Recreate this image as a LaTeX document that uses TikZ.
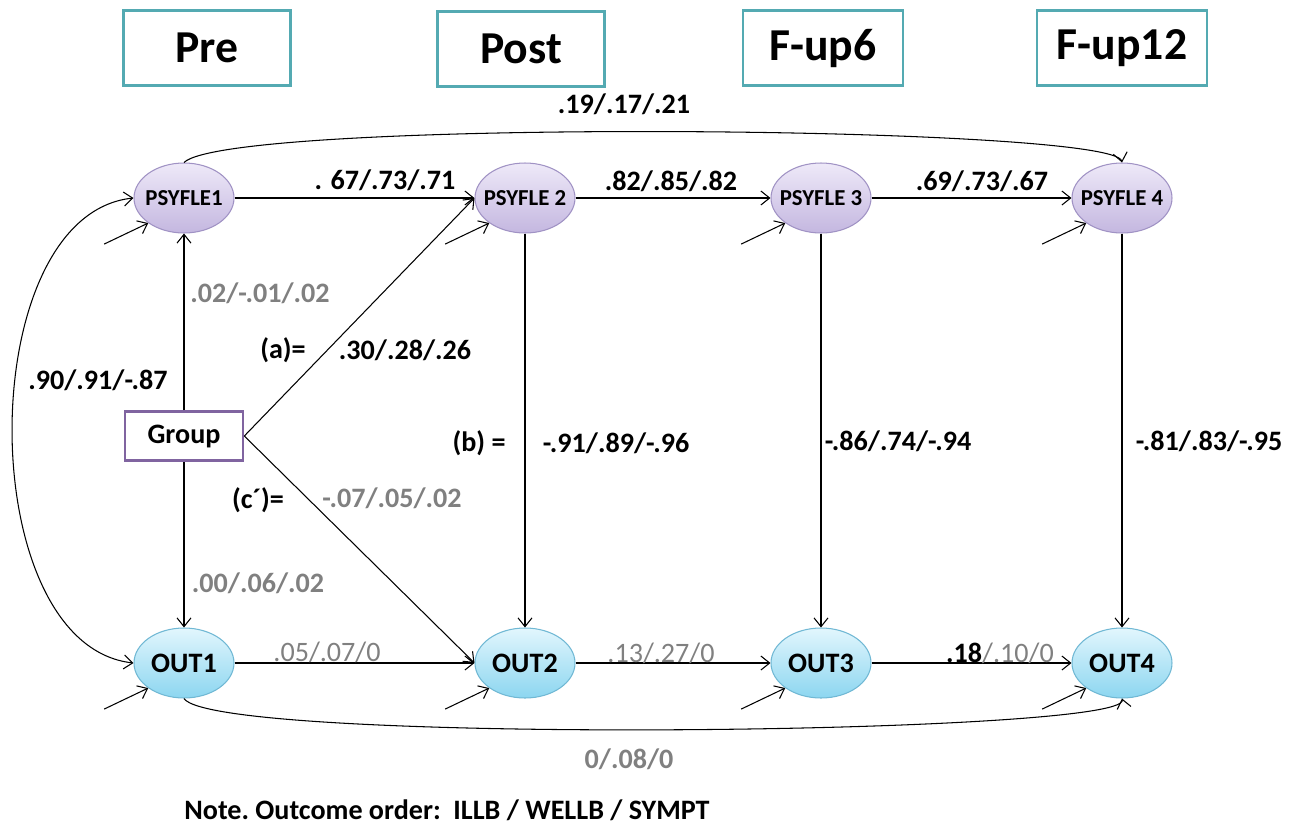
\documentclass[tikz,border=0pt]{standalone}
\usepackage{fontspec,graphicx}
\setmainfont{Carlito}
\usepackage{tikz}
\usetikzlibrary{calc}
\usetikzlibrary{shapes.geometric}
\usetikzlibrary{arrows.meta}
\definecolor{psyedge}{RGB}{160,146,196}
\definecolor{psytop}{RGB}{238,233,248}
\definecolor{psybot}{RGB}{196,183,224}
\definecolor{outedge}{RGB}{112,184,212}
\definecolor{outtop}{RGB}{226,246,253}
\definecolor{outbot}{RGB}{140,214,240}
\definecolor{waveedge}{RGB}{84,170,178}
\definecolor{grpedge}{RGB}{128,100,160}
\definecolor{coefgray}{RGB}{128,128,128}
\tikzset{
	% Two node styles for the path model: mediator and outcome
	psy node/.style={ellipse,draw=psyedge,top color=psytop,bottom color=psybot,minimum width=2cm,minimum height=1.4cm,inner xsep=-4pt,inner ysep=0pt,font=\bfseries\fontsize{13}{15}\selectfont},
	out node/.style={ellipse,draw=outedge,top color=outtop,bottom color=outbot,minimum width=2cm,minimum height=1.4cm,inner sep=0pt,font=\bfseries\fontsize{16}{18}\selectfont},
	% boxes for the waves and for the predictor
	wave node/.style={draw=waveedge,line width=1.6pt,minimum width=3.34cm,minimum height=1.5cm,font=\bfseries\fontsize{26}{30}\selectfont},
	group node/.style={draw=grpedge,line width=1.5pt,minimum width=2.36cm,minimum height=0.98cm,font=\bfseries\fontsize{16}{18}\selectfont},
	ns/.style={coefgray,font=\fontsize{16}{19}\selectfont}
}
\begin{document}
\begin{tikzpicture}[x=0.02cm,y=-0.02cm,font=\bfseries\fontsize{16}{19}\selectfont,>={Straight Barb[length=5pt,width=8pt]},line width=0.6pt]
	% macro for inputing path coefficients
	\newcommand{\coef}[3][black]{\node[#1]at(#2){#3};}
	\useasboundingbox (0,0) rectangle (1298,825);
	
	% waves
	\node(pre)[wave node] at (207,48){Pre};
	\node(post)[wave node] at (521,49){Post};
	\node(fu6)[wave node,minimum width=3.2cm] at (823,48){F-up6};
	\node(fu12)[wave node,minimum width=3.4cm] at (1122,48){F-up12};
	
	% mediators and outcomes
	\node(psy1)[psy node] at (184,198){PSYFLE1};
	\node(psy2)[psy node] at (525,198){PSYFLE 2};
	\node(psy3)[psy node] at (821,198){PSYFLE 3};
	\node(psy4)[psy node] at (1122,198){PSYFLE 4};
	\node(out1)[out node] at (184,663){OUT1};
	\node(out2)[out node] at (525,663){OUT2};
	\node(out3)[out node] at (821,663){OUT3};
	\node(out4)[out node] at (1122,663){OUT4};
	\node(grp)[group node] at (184,436){Group};
	
	% paths
	\draw[->](psy1)--(psy2);
	\draw[->](psy2)--(psy3);
	\draw[->](psy3)--(psy4);
	\draw[->](out1)--(out2);
	\draw[->](out2)--(out3);
	\draw[->](out3)--(out4);
	\draw[->](psy2)--(out2);
	\draw[->](psy3)--(out3);
	\draw[->](psy4)--(out4);
	\draw[->](grp)--(psy1);
	\draw[->](grp)--(out1);
	\draw[->](grp.east)--(psy2.west);
	\draw[->](grp.east)--(out2.west);
	\draw[->](psy1.north)..controls(230,118)and(1115,125)..(psy4.north);
	\draw[->](out1.south)..controls(215,745)and(1130,735)..(out4.south);
	\draw[<->](psy1.west)..controls(-28,215)and(-28,645)..(out1.west);
	
	% residuals
	\foreach \n in {psy1,psy2,psy3,psy4,out1,out2,out3,out4}{
		\coordinate(\n-e) at ($(\n.215)+(-44,21)$);
		\draw[->](\n-e)--(\n.215);
	}
	
	% coefficients
	\coef{624,104}{.19/.17/.21}
	\coef{385,180}{. 67/.73/.71}
	\coef{671,181}{.82/.85/.82}
	\coef{982,181}{.69/.73/.67}
	\coef[coefgray]{260,293}{.02/-.01/.02}
	\coef{283,350}{(a)=}
	\coef{405,350}{.30/.28/.26}
	\coef{98,380}{.90/.91/-.87}
	\coef{479,443}{(b) =}
	\coef{616,443}{-.91/.89/-.96}
	\coef{898,441}{-.86/.74/-.94}
	\coef{1209,441}{-.81/.83/-.95}
	\coef{258,500}{(c´)=}
	\coef[coefgray]{392,498}{-.07/.05/.02}
	\coef[coefgray]{258,583}{.00/.06/.02}
	\coef[ns]{327,652}{.05/.07/0}
	\coef[ns]{661,653}{.13/.27/0}
	\coef{1000,653}{.18{\mdseries\color{coefgray}/.10/0}}
	\coef[coefgray]{629,759}{0/.08/0}
	
	\node(note)[anchor=west] at (178,810){\frenchspacing Note. Outcome order:\ \ ILLB / WELLB / SYMPT};
\end{tikzpicture}
\end{document}
